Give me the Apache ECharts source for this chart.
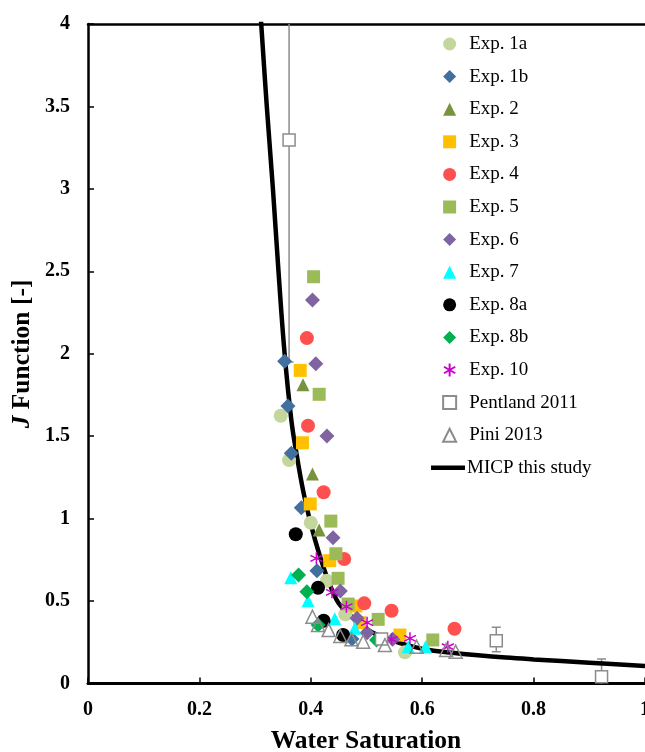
<!DOCTYPE html>
<html><head><meta charset="utf-8">
<script src="https://cdn.jsdelivr.net/npm/echarts@6/dist/echarts.min.js"></script>
<style>html,body{margin:0;padding:0;background:#fff;overflow:hidden;width:645px;height:752px}#c{width:645px;height:752px}</style>
</head><body><div id="c"></div>
<script>
var xTicks = [0, 0.2, 0.4, 0.6, 0.8, 1];
var yTicks = [0, 0.5, 1, 1.5, 2, 2.5, 3, 3.5, 4];

var exp1aSw = [0.346, 0.361, 0.400, 0.429, 0.462, 0.569];
var exp1aJ  = [1.624, 1.355, 0.975, 0.623, 0.420, 0.189];
var exp1bSw = [0.353, 0.359, 0.365, 0.383, 0.411, 0.474];
var exp1bJ  = [1.955, 1.683, 1.396, 1.066, 0.684, 0.270];
var exp2Sw = [0.386, 0.403, 0.415];
var exp2J  = [1.812, 1.270, 0.931];
var exp3Sw = [0.381, 0.385, 0.399, 0.434, 0.481, 0.488, 0.560];
var exp3J  = [1.899, 1.460, 1.089, 0.745, 0.470, 0.369, 0.294];
var exp4Sw = [0.393, 0.395, 0.423, 0.460, 0.496, 0.545, 0.658];
var exp4J  = [2.095, 1.563, 1.160, 0.755, 0.486, 0.441, 0.332];
var exp5Sw = [0.405, 0.415, 0.436, 0.445, 0.449, 0.467, 0.521, 0.619];
var exp5J  = [2.467, 1.754, 0.985, 0.787, 0.638, 0.482, 0.389, 0.264];
var exp6Sw = [0.403, 0.409, 0.429, 0.440, 0.453, 0.483, 0.501, 0.547];
var exp6J  = [2.326, 1.939, 1.501, 0.884, 0.561, 0.395, 0.308, 0.268];
var exp7Sw = [0.364, 0.395, 0.443, 0.479, 0.575, 0.606];
var exp7J  = [0.641, 0.502, 0.393, 0.335, 0.223, 0.223];
var exp8aSw = [0.373, 0.413, 0.423, 0.458];
var exp8aJ  = [0.905, 0.581, 0.381, 0.294];
var exp8bSw = [0.378, 0.393, 0.413, 0.518];
var exp8bJ  = [0.658, 0.557, 0.355, 0.264];
var exp10Sw = [0.410, 0.438, 0.464, 0.501, 0.545, 0.578, 0.646];
var exp10J  = [0.759, 0.553, 0.466, 0.369, 0.268, 0.274, 0.223];
var pentlandSw = [0.361, 0.527, 0.733, 0.922];
var pentlandJ  = [3.296, 0.270, 0.260, 0.041];
var pentlandLow  = [1.95, null, 0.193, -0.10];
var pentlandHigh = [4.30, null, 0.341, 0.148];
var piniSw = [0.403, 0.413, 0.432, 0.453, 0.473, 0.494, 0.533, 0.590, 0.643, 0.660];
var piniJ  = [0.405, 0.355, 0.324, 0.288, 0.268, 0.253, 0.233, 0.223, 0.203, 0.193];
var micpSw = [0.310, 0.321, 0.332, 0.342, 0.353, 0.365, 0.374, 0.390, 0.413, 0.446, 0.475, 0.500, 0.529, 0.560, 0.607, 0.650, 0.700, 0.750, 0.800, 0.900, 1.000];
var micpJ  = [4.05, 3.50, 3.00, 2.50, 2.00, 1.60, 1.40, 1.11, 0.81, 0.51, 0.40, 0.33, 0.282, 0.245, 0.206, 0.188, 0.171, 0.157, 0.146, 0.126, 0.106];

var symbolNames = ['Exp. 1a', 'Exp. 1b', 'Exp. 2', 'Exp. 3', 'Exp. 4', 'Exp. 5', 'Exp. 6', 'Exp. 7',
  'Exp. 8a', 'Exp. 8b', 'Exp. 10', 'Pentland 2011', 'Pini 2013'];
var lineName = 'MICP this study';

function pairs(a, b) { return a.map(function (v, i) { return [v, b[i]]; }); }

var FONT = 'Liberation Serif';
var ASTER = 'path://M5,0L5,10M0.67,2.5L9.33,7.5M0.67,7.5L9.33,2.5';

function sc(name, sw, j, symbol, size, style) {
  var st = { opacity: 1 };
  for (var k in style) st[k] = style[k];
  return {
    name: name, type: 'scatter', data: pairs(sw, j), symbol: symbol, symbolSize: size,
    itemStyle: st, z: 3
  };
}

var errData = pentlandSw.map(function (v, i) { return [v, pentlandLow[i], pentlandHigh[i]]; })
  .filter(function (d) { return d[1] !== null; });

var chart = echarts.init(document.getElementById('c'), null, { width: 645, height: 752 });
chart.setOption({
  animation: false,
  grid: { left: 88, right: 0, top: 24, bottom: 68.5, containLabel: false, outerBoundsMode: 'none' },
  xAxis: [{
    type: 'value', min: 0, max: 1, interval: 0.2,
    axisLine: { lineStyle: { color: '#000', width: 3 } },
    axisTick: { inside: true, length: 6, lineStyle: { color: '#000', width: 1.5 } },
    splitLine: { show: false },
    axisLabel: { color: '#000', fontFamily: FONT, fontWeight: 'bold', fontSize: 20, margin: 16,
      formatter: function (v) { return String(+v.toFixed(1)); } }
  }, {
    type: 'value', position: 'top', min: 0, max: 1,
    axisLine: { show: true, lineStyle: { color: '#000', width: 2.5 } },
    axisTick: { show: false }, axisLabel: { show: false }, splitLine: { show: false }
  }],
  yAxis: {
    type: 'value', min: 0, max: 4, interval: 0.5,
    axisLine: { show: true, lineStyle: { color: '#000', width: 2.5 } },
    axisTick: { show: true, inside: true, length: 6, lineStyle: { color: '#000', width: 1.5 } },
    splitLine: { show: false },
    axisLabel: { color: '#000', fontFamily: FONT, fontWeight: 'bold', fontSize: 20, margin: 18,
      formatter: function (v) { return String(+v.toFixed(1)); } }
  },
  legend: [{
    orient: 'vertical', left: 441.5, top: 34, padding: 0, itemWidth: 13, itemHeight: 13, itemGap: 12.6,
    textStyle: { fontFamily: FONT, fontSize: 19, color: '#000', lineHeight: 20, padding: [0, 0, 0, 8] },
    data: symbolNames
  }, {
    orient: 'vertical', left: 431, top: 457.8, padding: 0, itemWidth: 34, itemHeight: 4.5,
    textStyle: { fontFamily: FONT, fontSize: 19, color: '#000', lineHeight: 20, padding: [0, 0, 0, -3] },
    data: [{ name: lineName, icon: 'rect' }]
  }],
  graphic: [
    { type: 'text', x: 366, y: 741, style: { text: 'Water Saturation', align: 'center', verticalAlign: 'middle',
      font: 'bold 25.5px "Liberation Serif"', fill: '#000' } },
    { type: 'text', x: 22, y: 354, rotation: Math.PI / 2, style: {
      text: '{i|J} Function [-]', align: 'center', verticalAlign: 'middle',
      font: 'bold 25.5px "Liberation Serif"', fill: '#000',
      rich: { i: { fontStyle: 'italic', fontWeight: 'bold', fontSize: 25.5, fontFamily: FONT } } } }
  ],
  series: [
    { name: lineName, type: 'line', data: pairs(micpSw, micpJ), smooth: 0.4, showSymbol: false, symbol: 'none',
      lineStyle: { color: '#000', width: 4.5 }, itemStyle: { color: '#000' }, z: 2, clip: true },
    { type: 'custom', z: 2, clip: true, data: errData,
      renderItem: function (params, api) {
        var x = api.value(0);
        var lo = api.coord([x, api.value(1)]);
        var hi = api.coord([x, api.value(2)]);
        var st = { stroke: '#8c8c8c', lineWidth: 1.5 };
        return { type: 'group', children: [
          { type: 'line', shape: { x1: lo[0], y1: lo[1], x2: hi[0], y2: hi[1] }, style: st },
          { type: 'line', shape: { x1: lo[0] - 4.5, y1: lo[1], x2: lo[0] + 4.5, y2: lo[1] }, style: st },
          { type: 'line', shape: { x1: hi[0] - 4.5, y1: hi[1], x2: hi[0] + 4.5, y2: hi[1] }, style: st }
        ] };
      } },
    sc('Exp. 1a', exp1aSw, exp1aJ, 'circle', 14, { color: '#c3d69b' }),
    sc('Exp. 1b', exp1bSw, exp1bJ, 'diamond', 15, { color: '#41709f' }),
    sc('Exp. 2', exp2Sw, exp2J, 'triangle', 13, { color: '#77933c' }),
    sc('Exp. 3', exp3Sw, exp3J, 'rect', 13, { color: '#ffc000' }),
    sc('Exp. 4', exp4Sw, exp4J, 'circle', 14, { color: '#ff5050' }),
    sc('Exp. 5', exp5Sw, exp5J, 'rect', 13, { color: '#9bbb59' }),
    sc('Exp. 6', exp6Sw, exp6J, 'diamond', 15, { color: '#8064a2' }),
    sc('Exp. 7', exp7Sw, exp7J, 'triangle', 13, { color: '#00ffff' }),
    sc('Exp. 8a', exp8aSw, exp8aJ, 'circle', 14, { color: '#000000' }),
    sc('Exp. 8b', exp8bSw, exp8bJ, 'diamond', 15, { color: '#00b050' }),
    sc('Exp. 10', exp10Sw, exp10J, ASTER, 12, { color: 'none', borderColor: '#cc00cc', borderWidth: 1.5 }),
    sc('Pentland 2011', pentlandSw, pentlandJ, 'rect', 12, { color: '#fff', borderColor: '#8c8c8c', borderWidth: 1.5 }),
    sc('Pini 2013', piniSw, piniJ, 'triangle', 13, { color: 'rgba(255,255,255,0)', borderColor: '#8c8c8c', borderWidth: 1.5 })
  ]
});
</script></body></html>
